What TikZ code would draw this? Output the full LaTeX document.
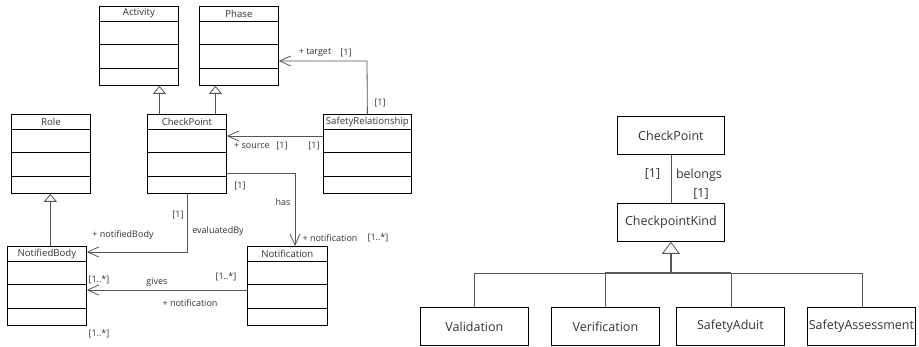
\documentclass[tikz,border=0pt]{standalone}
\usepackage{fontspec}
\setmainfont{Open Sans}
\usetikzlibrary{arrows.meta}
\definecolor{ink}{HTML}{333333}
\definecolor{wire}{HTML}{555555}
\tikzset{
  classbox/.style={draw=black, line width=0.8pt, inner sep=0pt},
  cls/.style={font=\fontsize{9.6}{11}\selectfont, text=ink},
  lbl/.style={font=\fontsize{9}{10}\selectfont, text=ink, inner sep=0pt},
  blbl/.style={font=\fontsize{12.5}{14}\selectfont, text=ink, inner sep=0pt},
  bigcls/.style={classbox, minimum width=107pt, minimum height=38pt, font=\fontsize{12.5}{14}\selectfont, text=ink},
  assoc/.style={draw=wire, line width=0.8pt, -{Straight Barb[length=11pt,width=10pt]}},
  gen/.style={draw=wire, line width=0.8pt, -{Triangle[open, length=8pt, width=13pt]}},
  biggen/.style={draw=wire, line width=1.2pt, -{Triangle[open, length=12pt, width=18pt, line width=0.8pt]}},
  link/.style={draw=wire, line width=0.8pt},
}
% UML class with a title bar and three compartments
% #1 name, #2 left x, #3 top y, #4 width, #5 title
\newcommand{\umlclass}[5]{%
  \node[classbox, minimum width=#4pt, minimum height=79pt, anchor=north west] (#1) at (#2,#3) {};
  \foreach \d in {15,38.5,62}
    \draw[classbox] ([yshift=-\d pt]#1.north west) -- ([yshift=-\d pt]#1.north east);
  \node[cls] at ([yshift=-7.5pt]#1.north) {#5};
}
\begin{document}
\begin{tikzpicture}[x=1pt, y=-1pt]
\useasboundingbox (0,0) rectangle (919,347);

% ---- class model ----
\umlclass{act}{99}{6}{79}{Activity}
\umlclass{phase}{199}{6}{79}{Phase}
\umlclass{role}{11}{114}{79}{Role}
\umlclass{cp}{147}{114}{79}{CheckPoint}
\umlclass{sr}{323}{114}{88}{SafetyRelationship}
\umlclass{nb}{7}{246}{79}{NotifiedBody}
\umlclass{notif}{247}{246}{80}{Notification}

% generalizations
\coordinate (ga) at ([xshift=-27.5pt]cp.north);
\coordinate (gp) at ([xshift=28.5pt]cp.north);
\draw[gen] (ga) -- (ga |- act.south);
\draw[gen] (gp) -- (gp |- phase.south);
\draw[gen] (nb.north -| role.south) ++(-0.5,0) coordinate (gr) -- (gr |- role.south);

% target
\coordinate (tg) at (367,61);
\draw[assoc] (sr.north) -- (tg) -- (tg -| phase.east);
\node[lbl] at (315,53) {+ target};
\node[lbl] at (346,53) {[1]};
\node[lbl] at (380,103) {[1]};

% source
\coordinate (sc) at ([yshift=-22pt]sr.north west);
\draw[assoc] (sc) -- (sc -| cp.east);
\node[lbl] at (252,146) {+ source};
\node[lbl] at (282,146) {[1]};
\node[lbl] at (314,146) {[1]};

% has
\coordinate (hs) at ([yshift=-59pt]cp.north east);
\coordinate (hc) at (295,173);
\draw[assoc] (hs) -- (hc) -- (hc |- notif.north);
\node[lbl] at (240,186) {[1]};
\node[lbl] at (283,202) {has};
\node[lbl] at (330,238) {+ notification};
\node[lbl] at (378,238) {[1..*]};

% evaluatedBy
\coordinate (ev) at (cp.south |- 0,252);
\draw[assoc] (cp.south) -- (ev) -- (ev -| nb.east);
\node[lbl] at (178,215) {[1]};
\node[lbl] at (218,231) {evaluatedBy};
\node[lbl] at (123,235) {+ notifiedBody};

% gives
\coordinate (gv) at ([yshift=-44pt]notif.north west);
\draw[assoc] (gv) -- (gv -| nb.east);
\node[lbl] at (99,280) {[1..*]};
\node[lbl] at (157,282) {gives};
\node[lbl] at (226,277) {[1..*]};
\node[lbl] at (190,303) {+ notification};
\node[lbl] at (99,334) {[1..*]};

% ---- checkpoint kinds ----
\node[bigcls, anchor=north west] (cp2) at (617,116) {CheckPoint};
\node[bigcls, anchor=north west] (kind) at (617,203) {CheckpointKind};
\draw[link] (cp2.south) -- (kind.north);
\node[blbl] at (652.5,174) {[1]};
\node[blbl] at (699,175) {belongs};
\node[blbl] at (701,194) {[1]};

\node[bigcls, minimum width=108pt, anchor=north west] (val) at (420,307) {Validation};
\node[bigcls, minimum width=108pt, anchor=north west] (ver) at (551,307) {Verification};
\node[bigcls, minimum width=108pt, anchor=north west] (aud) at (676,307) {SafetyAduit};
\node[bigcls, minimum width=108pt, anchor=north west] (ass) at (807,307) {SafetyAssessment};

\coordinate (bus) at (kind.south |- 0,273);
\draw[biggen] (bus) -- (kind.south);
\draw[link] (474,273) coordinate (b1) -- (862,273) coordinate (b4);
\draw[wire, line width=1.2pt] (605,273) -- (731,273);
\draw[link] (b1) -- (b1 |- val.north);
\draw[link] (605,273) -- (605,307 |- ver.north);
\draw[link] (731,273) -- (731,307 |- aud.north);
\draw[link] (b4) -- (b4 |- ass.north);
\end{tikzpicture}
\end{document}
